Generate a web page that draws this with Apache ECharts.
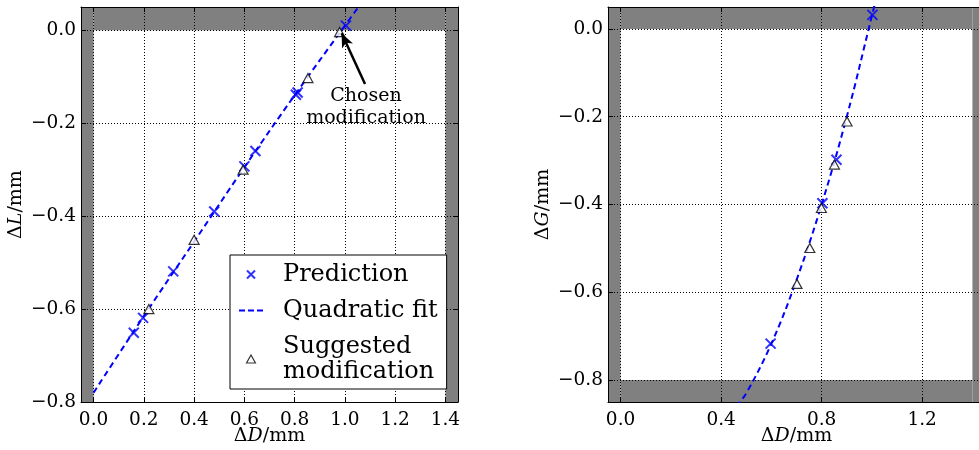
<!DOCTYPE html>
<html>
<head>
<meta charset="utf-8">
<script src="https://cdn.jsdelivr.net/npm/echarts@6/dist/echarts.min.js"></script>
<style>
html,body{margin:0;padding:0;background:#fff;}
#chart{width:979px;height:450px;}
</style>
</head>
<body>
<div id="chart"></div>
<script>
// ---------- data ----------
// Left panel: ΔL vs ΔD
const predL_x = [0.160, 0.197, 0.317, 0.480, 0.600, 0.644, 0.805, 0.812, 1.004];
const predL_y = [-0.651, -0.619, -0.519, -0.390, -0.293, -0.260, -0.139, -0.134, 0.010];
const sugL_x = [0.220, 0.400, 0.595, 0.853, 0.979];
const sugL_y = [-0.600, -0.451, -0.300, -0.103, -0.004];
const fitL_x = [0.0, 0.2, 0.4, 0.6, 0.8, 1.0, 1.07];
const fitL_y = [-0.780, -0.615, -0.455, -0.295, -0.140, 0.010, 0.062];
// Right panel: ΔG vs ΔD
const predR_x = [0.597, 0.803, 0.859, 1.002];
const predR_y = [-0.717, -0.397, -0.298, 0.032];
const sugR_x = [0.702, 0.753, 0.799, 0.851, 0.901];
const sugR_y = [-0.581, -0.499, -0.408, -0.309, -0.211];
const fitR_x = [0.46, 0.50, 0.60, 0.70, 0.80, 0.90, 1.00, 1.03];
const fitR_y = [-0.860, -0.830, -0.717, -0.572, -0.400, -0.200, 0.030, 0.100];

// tick values
const xTicksL = [0, 0.2, 0.4, 0.6, 0.8, 1.0, 1.2, 1.4];
const xTicksR = [0, 0.4, 0.8, 1.2];
const yTicks = [0, -0.2, -0.4, -0.6, -0.8];

// annotation
const annoText = 'Chosen\nmodification';
const annoTail = [1.080, -0.1155];
const annoHead = [0.987, -0.0065];
const annoTextPos = [1.084, -0.166];

const seriesNames = ['Prediction', 'Quadratic fit', 'Suggested modification'];

// ---------- helpers ----------
const zip = (xs, ys) => xs.map((x, i) => [x, ys[i]]);
const FONT = 'DejaVu Serif';
const TICK_FS = 18.5;
const NAME_FS = 19;
const fmt = v => (Math.abs(v) < 1e-9 ? '0.0' : (v < 0 ? '\u2212' : '') + Math.abs(v).toFixed(1));
const GRAY = '#808080';
const BLUE = '#0000ff';
const X_PATH = 'path://M0,0L10,10M10,0L0,10';
const TRI_PATH = 'path://M5,0L10,9L0,9Z';
const DASH_PATH = 'path://M0,0h6v2h-6zM9,0h6v2h-6zM18,0h6v2h-6z';

function nameStyle() {
  return {fontFamily: FONT, fontSize: NAME_FS, color: '#000',
    rich: {d: {fontFamily: FONT, fontSize: NAME_FS, color: '#000'},
           i: {fontFamily: FONT, fontSize: NAME_FS, fontStyle: 'italic', color: '#000'}}};
}
function xAxisDef(gi, pos, ticks, min, max, withName) {
  return {
    type: 'value', gridIndex: gi, position: pos, min: min, max: max, z: 1.5,
    axisLine: {show: true, onZero: false, lineStyle: {color: '#000', width: 1}},
    axisTick: {show: true, inside: true, length: 5, customValues: ticks, lineStyle: {color: '#000', width: 1}},
    axisLabel: {show: withName, customValues: ticks, formatter: fmt, margin: 9,
      fontFamily: FONT, fontSize: TICK_FS, color: '#000'},
    splitLine: {show: withName, lineStyle: {color: '#000', width: 1, type: [1, 2]}},
    name: withName ? '{d|\u0394}{i|D}{d|/mm}' : '',
    nameLocation: 'middle', nameGap: 25, nameMoveOverlap: false,
    nameTextStyle: nameStyle()
  };
}
function yAxisDef(gi, pos, ticks, min, max, letter, gap) {
  const withName = !!letter;
  return {
    type: 'value', gridIndex: gi, position: pos, min: min, max: max, z: 1.5,
    axisLine: {show: true, onZero: false, lineStyle: {color: '#000', width: 1}},
    axisTick: {show: true, inside: true, length: 5, customValues: ticks, lineStyle: {color: '#000', width: 1}},
    axisLabel: {show: withName, customValues: ticks, formatter: fmt, margin: 5,
      fontFamily: FONT, fontSize: TICK_FS, color: '#000'},
    splitLine: {show: withName, lineStyle: {color: '#000', width: 1, type: [1, 2]}},
    name: withName ? '{d|\u0394}{i|' + letter + '}{d|/mm}' : '',
    nameLocation: 'middle', nameGap: gap || 50, nameMoveOverlap: false,
    nameTextStyle: nameStyle()
  };
}
function bands(xi, yi, x0, x1, y0, y1, xin0, xin1, yin0, yin1) {
  const s = {itemStyle: {color: GRAY, opacity: 1}};
  const data = [
    [{xAxis: x0, yAxis: y0, ...s}, {xAxis: xin0, yAxis: y1}],
    [{xAxis: xin1, yAxis: y0, ...s}, {xAxis: x1, yAxis: y1}],
    [{xAxis: xin0, yAxis: yin1, ...s}, {xAxis: xin1, yAxis: y1}]
  ];
  if (y0 < yin0) data.push([{xAxis: xin0, yAxis: y0, ...s}, {xAxis: xin1, yAxis: yin0}]);
  return {
    type: 'line', xAxisIndex: xi, yAxisIndex: yi, data: [], z: 1, silent: true,
    markArea: {silent: true, itemStyle: {color: GRAY, opacity: 1}, data: data}
  };
}
function predSeries(xi, yi, xs, ys) {
  return {name: seriesNames[0], type: 'scatter', xAxisIndex: xi, yAxisIndex: yi, z: 4,
    symbol: X_PATH, symbolSize: 10,
    itemStyle: {color: 'none', borderColor: BLUE, borderWidth: 2},
    data: zip(xs, ys)};
}
function fitSeries(xi, yi, xs, ys) {
  return {name: seriesNames[1], type: 'line', xAxisIndex: xi, yAxisIndex: yi, z: 3,
    symbol: 'none', showSymbol: false, smooth: 0.4, clip: true,
    lineStyle: {color: BLUE, width: 2, type: [6, 4]},
    itemStyle: {color: BLUE},
    data: zip(xs, ys)};
}
function sugSeries(xi, yi, xs, ys) {
  return {name: seriesNames[2], type: 'scatter', xAxisIndex: xi, yAxisIndex: yi, z: 4,
    symbol: 'triangle', symbolSize: [10, 9],
    itemStyle: {color: '#fff', borderColor: '#000', borderWidth: 1.2},
    data: zip(xs, ys)};
}

const chart = echarts.init(document.getElementById('chart'), null, {renderer: 'canvas'});
const option = {
  animation: false,
  backgroundColor: '#fff',
  grid: [
    {left: 81, top: 7, width: 377, height: 395, containLabel: false, outerBoundsMode: 'none'},
    {left: 608, top: 7, right: -6, height: 395, containLabel: false, outerBoundsMode: 'none'}
  ],
  xAxis: [
    xAxisDef(0, 'bottom', xTicksL, -0.05, 1.45, true),
    xAxisDef(0, 'top', xTicksL, -0.05, 1.45, false),
    xAxisDef(1, 'bottom', xTicksR, -0.05, 1.45, true),
    xAxisDef(1, 'top', xTicksR, -0.05, 1.45, false)
  ],
  yAxis: [
    yAxisDef(0, 'left', yTicks, -0.8, 0.05, 'L', 55),
    yAxisDef(0, 'right', yTicks, -0.8, 0.05, null),
    yAxisDef(1, 'left', yTicks, -0.85, 0.05, 'G', 55),
    yAxisDef(1, 'right', yTicks, -0.85, 0.05, null)
  ],
  legend: {
    orient: 'vertical', left: 230, top: 255,
    padding: [7, 9, 5, 9], itemGap: 11, itemWidth: 24, itemHeight: 8,
    backgroundColor: '#fff', borderColor: '#000', borderWidth: 1, borderRadius: 0,
    symbolKeepAspect: true,
    data: [
      {name: seriesNames[0], icon: X_PATH, itemStyle: {color: 'none', borderColor: BLUE, borderWidth: 2}},
      {name: seriesNames[1], icon: DASH_PATH, itemStyle: {color: BLUE, borderWidth: 0}, lineStyle: {opacity: 0}},
      {name: seriesNames[2], icon: TRI_PATH, itemStyle: {color: '#fff', borderColor: '#000', borderWidth: 1.2}}
    ],
    formatter: n => n === 'Suggested modification' ? 'Suggested\nmodification' : n,
    textStyle: {fontFamily: FONT, fontSize: 24, lineHeight: 25, color: '#000', padding: [0, 0, 0, 15]},
    selectedMode: false
  },
  series: [
    bands(0, 0, -0.05, 1.45, -0.8, 0.05, 0, 1.4, -0.8, 0),
    bands(2, 2, -0.05, 1.45, -0.85, 0.05, 0, 1.4, -0.8, 0),
    fitSeries(0, 0, fitL_x, fitL_y),
    predSeries(0, 0, predL_x, predL_y),
    sugSeries(0, 0, sugL_x, sugL_y),
    fitSeries(2, 2, fitR_x, fitR_y),
    predSeries(2, 2, predR_x, predR_y),
    sugSeries(2, 2, sugR_x, sugR_y),
    {
      type: 'line', xAxisIndex: 0, yAxisIndex: 0, data: [], z: 5, silent: true,
      markLine: {
        silent: true, animation: false,
        lineStyle: {color: '#000', width: 2.5, type: 'solid'},
        label: {show: false},
        symbol: ['none', 'arrow'], symbolSize: [9, 14],
        data: [[{coord: annoTail}, {coord: annoHead}]]
      },
      markPoint: {
        silent: true, symbol: 'circle', symbolSize: 0,
        label: {show: true, position: 'inside', formatter: annoText,
          fontFamily: FONT, fontSize: 19, lineHeight: 22, color: '#000', align: 'center'},
        data: [{coord: annoTextPos}]
      }
    }
  ]
};
chart.setOption(option);
</script>
</body>
</html>
